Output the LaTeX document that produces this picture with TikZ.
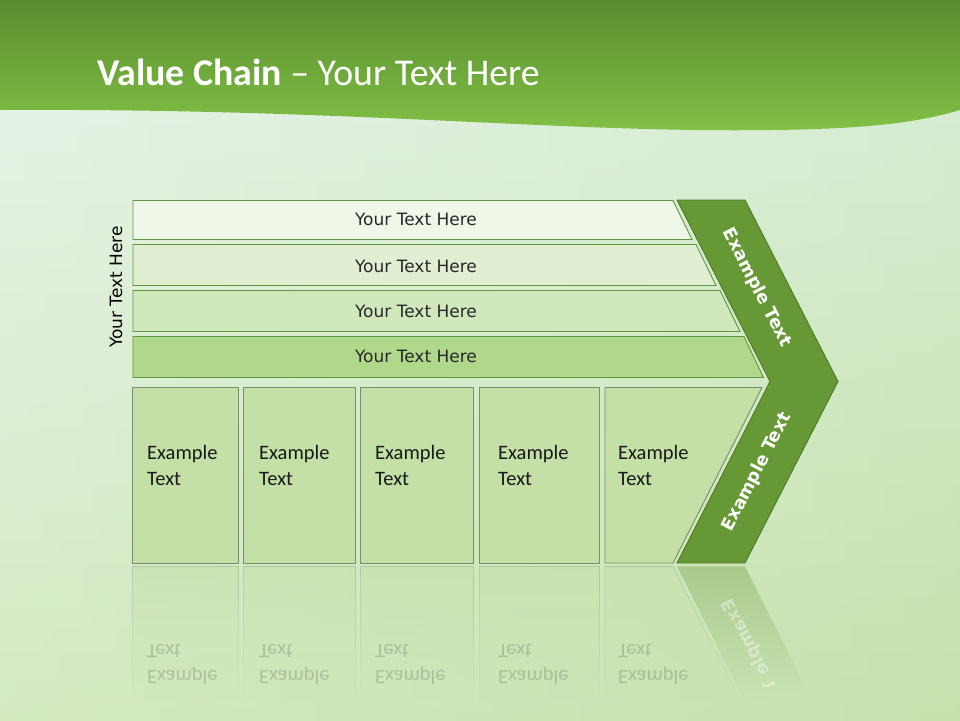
\documentclass[tikz,border=0pt]{standalone}
\usepackage{fontspec}
\setmainfont{Carlito}
\newfontfamily\tah{DejaVu Sans}
\usetikzlibrary{fadings}
\definecolor{bandtop}{RGB}{88,140,46}
\definecolor{bandbot}{RGB}{130,193,70}
\definecolor{bgtop}{RGB}{224,242,230}
\definecolor{bgbot}{RGB}{198,226,172}
\definecolor{barA}{RGB}{239,247,232}
\definecolor{barB}{RGB}{224,239,209}
\definecolor{barC}{RGB}{209,232,189}
\definecolor{barD}{RGB}{175,216,139}
\definecolor{barline}{RGB}{96,150,60}
\definecolor{boxfill}{RGB}{197,224,166}
\definecolor{boxline}{RGB}{120,140,110}
\definecolor{chev}{RGB}{102,153,54}
\definecolor{chevline}{RGB}{78,122,38}
\definecolor{txt}{RGB}{40,40,40}
\tikzfading[name=reflfade, top color=transparent!45, bottom color=transparent!100]
\tikzset{
  barshape/.style={fill=#1, draw=barline, line width=0.9pt},
  bartext/.style={font=\tah\fontsize{17}{20}\selectfont, text=txt, inner sep=0pt},
  boxshape/.style={fill=boxfill, draw=boxline, line width=0.9pt},
  boxtext/.style={font=\fontsize{20.5}{26}\selectfont, text=black!90, align=left, anchor=west, inner sep=0pt},
  chevshape/.style={fill=chev, draw=chevline, line width=0.9pt},
  chevtext/.style={font=\tah\bfseries\fontsize{17.5}{20}\selectfont, text=white, inner sep=0pt},
  reflbox/.style={fill=boxfill, draw=boxline!70, line width=0.8pt, path fading=reflfade},
  refltext/.style={font=\fontsize{20.5}{26}\selectfont, text=black!70, text opacity=0.25, align=left, anchor=west, inner sep=0pt, yscale=-1},
}
\begin{document}
\begin{tikzpicture}[x=1pt,y=-1pt]
\useasboundingbox (0,0) rectangle (960,720);
% background
\shade[top color=bgtop, bottom color=bgbot] (0,0) rectangle (960,720);
\shade[left color=white, right color=bgbot, opacity=0.25] (0,110) rectangle (960,720);
% header band
\shade[top color=bandtop, bottom color=bandbot]
  (0,0) -- (960,0) -- (960,110)
  .. controls (920,122) and (870,129) .. (770,130)
  .. controls (560,133) and (350,108) .. (0,110) -- cycle;
\node[anchor=base west, inner sep=0pt, text=white, font=\fontsize{37.8}{40}\selectfont] (title) at (97,85)
  {\textbf{Value Chain} – Your Text Here};

% horizontal bars
\draw[barshape=barA] (133,200.5) -- (673,200.5) -- (692,239.5) -- (133,239.5) -- cycle;
\draw[barshape=barB] (133,244.5) -- (696,244.5) -- (716,285.5) -- (133,285.5) -- cycle;
\draw[barshape=barC] (133,290.5) -- (720,290.5) -- (740,331.5) -- (133,331.5) -- cycle;
\draw[barshape=barD] (133,336.5) -- (744,336.5) -- (763.5,377.5) -- (133,377.5) -- cycle;
\node[bartext] (t1) at (416,219) {Your Text Here};
\node[bartext] (t2) at (416,266) {Your Text Here};
\node[bartext] (t3) at (416,311) {Your Text Here};
\node[bartext] (t4) at (416,356) {Your Text Here};
\node[bartext, rotate=90, text=black] (side) at (116,287) {Your Text Here};

% chevron
\draw[chevshape] (677,200) -- (745,200) -- (838,381.5) -- (745,563) -- (677,563) -- (770,381.5) -- cycle;
\node[chevtext, rotate=-62.8] (c1) at (757,288) {Example Text};
\node[chevtext, rotate=62.8] (c2) at (757,472) {Example Text};

% boxes
\draw[boxshape] (132.5,387.5) rectangle (238.5,563);
\draw[boxshape] (243.5,387.5) rectangle (355.5,563);
\draw[boxshape] (360.5,387.5) rectangle (473.5,563);
\draw[boxshape] (479.5,387.5) rectangle (599.5,563);
\draw[boxshape] (605,387.5) -- (762,387.5) -- (673,563) -- (605,563) -- cycle;
\node[boxtext] (b1) at (147,465) {Example\\Text};
\node[boxtext] (b2) at (259,465) {Example\\Text};
\node[boxtext] (b3) at (375,465) {Example\\Text};
\node[boxtext] (b4) at (498,465) {Example\\Text};
\node[boxtext] (b5) at (618,465) {Example\\Text};

% reflections
\fill[reflbox] (132.5,566.5) rectangle (238.5,700);
\fill[reflbox] (243.5,566.5) rectangle (355.5,700);
\fill[reflbox] (360.5,566.5) rectangle (473.5,700);
\fill[reflbox] (479.5,566.5) rectangle (599.5,700);
\fill[reflbox] (605,566.5) -- (673,566.5) -- (740,700) -- (605,700) -- cycle;
\fill[fill=chev!75, path fading=reflfade] (677,566.5) -- (745,566.5) -- (812,700) -- (744,700) -- cycle;
\node[refltext] (r1) at (147,665) {Example\\Text};
\node[refltext] (r2) at (259,665) {Example\\Text};
\node[refltext] (r3) at (375,665) {Example\\Text};
\node[refltext] (r4) at (498,665) {Example\\Text};
\node[refltext] (r5) at (618,665) {Example\\Text};
\begin{scope}
\clip (677,566.5) -- (745,566.5) -- (805,686) -- (737,686) -- cycle;
\node[chevtext, text opacity=0.4, yscale=-1, rotate=62.8] (rc) at (757,658) {Example Text};
\end{scope}
\end{tikzpicture}
\end{document}
